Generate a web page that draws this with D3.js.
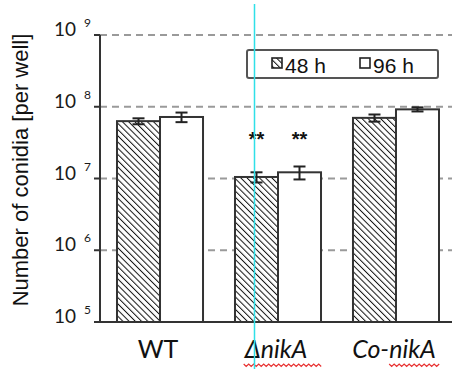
<!DOCTYPE html>
<html>
<head>
<meta charset="utf-8">
<script src="https://cdn.jsdelivr.net/npm/d3@7/dist/d3.min.js"></script>
<style>
  html, body { margin: 0; padding: 0; background: #fff; }
  svg { display: block; }
</style>
</head>
<body>
<div id="chart"></div>
<script>
// strains and time points
const groups = ['WT', 'ΔnikA', 'Co-nikA']
const series = ['48 h', '96 h']
// conidia per well (means) and error (SD)
const mean48 = [6.3e7, 1.05e7, 7.0e7]
const mean96 = [7.2e7, 1.22e7, 9.2e7]
const err48  = [0.6e7, 0.17e7, 0.8e7]
const err96  = [1.1e7, 0.25e7, 0.6e7]
const signif = ['', '**', '']   // same for both series
const yTicks = [1e5, 1e6, 1e7, 1e8, 1e9]
const gridTicks = [1e6, 1e7, 1e8, 1e9]

const W = 452, H = 369
const axisX = 100, baseY = 322, topY = 35

const svg = d3.select('#chart').append('svg')
  .attr('width', W).attr('height', H)

// hatch pattern for 48 h
const defs = svg.append('defs')
defs.append('pattern')
  .attr('id', 'hatch')
  .attr('patternUnits', 'userSpaceOnUse')
  .attr('width', 4.4).attr('height', 4.4)
  .attr('patternTransform', 'rotate(-45)')
  .call(p => {
    p.append('rect').attr('width', 4.4).attr('height', 4.4).attr('fill', '#fff')
    p.append('line').attr('x1', 0).attr('y1', 0).attr('x2', 0).attr('y2', 4.4)
      .attr('stroke', '#111').attr('stroke-width', 2)
  })

const y = d3.scaleLog().domain([1e5, 1e9]).range([baseY, topY])
const x0 = d3.scaleBand().domain(groups).range([101, 455])
  .paddingInner(0.271).paddingOuter(0.1356)
const x1 = d3.scaleBand().domain(series).range([0, x0.bandwidth()])

// dashed grid
svg.append('g').selectAll('line').data(gridTicks).join('line')
  .attr('x1', axisX).attr('x2', W)
  .attr('y1', d => y(d)).attr('y2', d => y(d))
  .attr('stroke', '#9a9a9a').attr('stroke-width', 2)
  .attr('stroke-dasharray', '7,5')

const rows = groups.map((g, i) => [
  { g, s: series[0], v: mean48[i], e: err48[i], sig: signif[i], fill: 'url(#hatch)' },
  { g, s: series[1], v: mean96[i], e: err96[i], sig: signif[i], fill: '#fff' }
]).flat()

const bars = svg.append('g')
bars.selectAll('rect').data(rows).join('rect')
  .attr('x', d => x0(d.g) + x1(d.s))
  .attr('y', d => y(d.v))
  .attr('width', x1.bandwidth())
  .attr('height', d => baseY - y(d.v))
  .attr('fill', d => d.fill)
  .attr('stroke', '#333').attr('stroke-width', 2)

// error bars
const eb = svg.append('g').attr('stroke', '#222').attr('stroke-width', 2)
rows.forEach(d => {
  const cx = x0(d.g) + x1(d.s) + x1.bandwidth() / 2
  const yt = y(d.v + d.e), yb = y(d.v - d.e)
  eb.append('line').attr('x1', cx).attr('x2', cx).attr('y1', yt).attr('y2', yb)
  eb.append('line').attr('x1', cx - 6).attr('x2', cx + 6).attr('y1', yt).attr('y2', yt)
  eb.append('line').attr('x1', cx - 6).attr('x2', cx + 6).attr('y1', yb).attr('y2', yb)
})

// significance stars
svg.append('g').selectAll('text').data(rows.filter(d => d.sig)).join('text')
  .attr('x', d => x0(d.g) + x1(d.s) + x1.bandwidth() / 2)
  .attr('y', 146)
  .attr('text-anchor', 'middle')
  .attr('font-family', 'Liberation Sans, Arial, sans-serif')
  .attr('font-weight', 'bold')
  .attr('font-size', 20)
  .attr('fill', '#111')
  .text(d => d.sig)

// axes lines
svg.append('line').attr('x1', axisX).attr('x2', axisX).attr('y1', topY).attr('y2', baseY)
  .attr('stroke', '#333').attr('stroke-width', 2)
svg.append('line').attr('x1', axisX - 6).attr('x2', W).attr('y1', baseY).attr('y2', baseY)
  .attr('stroke', '#333').attr('stroke-width', 2)

// y ticks with 10^n labels
const yt = svg.append('g')
yTicks.forEach(t => {
  const ty = y(t)
  yt.append('line').attr('x1', axisX - 6).attr('x2', axisX).attr('y1', ty).attr('y2', ty)
    .attr('stroke', '#333').attr('stroke-width', 2)
  yt.append('text').attr('x', 76).attr('y', ty + 1)
    .attr('text-anchor', 'end')
    .attr('font-family', 'Lato, sans-serif').attr('font-size', 19).attr('fill', '#1a1a1a')
    .text('10')
  yt.append('text').attr('x', 84).attr('y', ty - 8)
    .attr('font-family', 'Lato, sans-serif').attr('font-size', 12).attr('fill', '#1a1a1a')
    .text(Math.round(Math.log10(t)))
})

// y label
svg.append('text')
  .attr('transform', `translate(28,170) rotate(-90)`)
  .attr('text-anchor', 'middle')
  .attr('font-family', 'Liberation Sans, Arial, sans-serif')
  .attr('font-size', 22).attr('fill', '#111')
  .text('Number of conidia [per well]')

// x labels
const xl = svg.append('g').selectAll('text').data(groups).join('text')
  .attr('x', d => x0(d) + x0.bandwidth() / 2 - 2)
  .attr('y', 358)
  .attr('text-anchor', 'middle')
  .attr('font-family', 'Lato, sans-serif')
  .attr('font-size', 25)
  .attr('font-style', d => d === 'WT' ? 'normal' : 'italic')
  .attr('fill', '#111')
  .text(d => d)

// spell-check squiggles under nikA
function squiggle(xa, xb, yy) {
  let p = `M${xa},${yy}`
  for (let xx = xa, k = 0; xx < xb; xx += 2.5, k++) p += `L${xx + 2.5},${yy + (k % 2 ? 0 : 2.5)}`
  svg.append('path').attr('d', p).attr('fill', 'none').attr('stroke', '#e83030').attr('stroke-width', 1.2)
}
xl.each(function (d) {
  if (d === 'WT') return
  const b = this.getBBox()
  if (d === 'ΔnikA') squiggle(b.x, b.x + b.width + 12, 364)
  else {
    const off = this.getSubStringLength(0, 3)
    squiggle(b.x + off, b.x + b.width + 3, 364)
  }
})

// legend
const lg = svg.append('g')
lg.append('rect').attr('x', 247).attr('y', 50).attr('width', 191).attr('height', 28)
  .attr('rx', 2).attr('fill', '#fff').attr('stroke', '#555').attr('stroke-width', 2)
const lx = d3.scalePoint().domain(series).range([272, 360])
series.forEach((s, i) => {
  lg.append('rect').attr('x', lx(s)).attr('y', 58).attr('width', 10).attr('height', 10)
    .attr('fill', i === 0 ? 'url(#hatch)' : '#fff')
    .attr('stroke', '#222').attr('stroke-width', 1.6)
  lg.append('text').attr('x', lx(s) + 13).attr('y', 73)
    .attr('font-family', 'Liberation Sans, Arial, sans-serif')
    .attr('font-size', 21).attr('fill', '#111')
    .text(s)
})

// cyan guide line present in the reference
svg.append('line').attr('x1', 254.5).attr('x2', 254.5).attr('y1', 4).attr('y2', H)
  .attr('stroke', '#2fe0e8').attr('stroke-width', 1.5)
</script>
</body>
</html>
